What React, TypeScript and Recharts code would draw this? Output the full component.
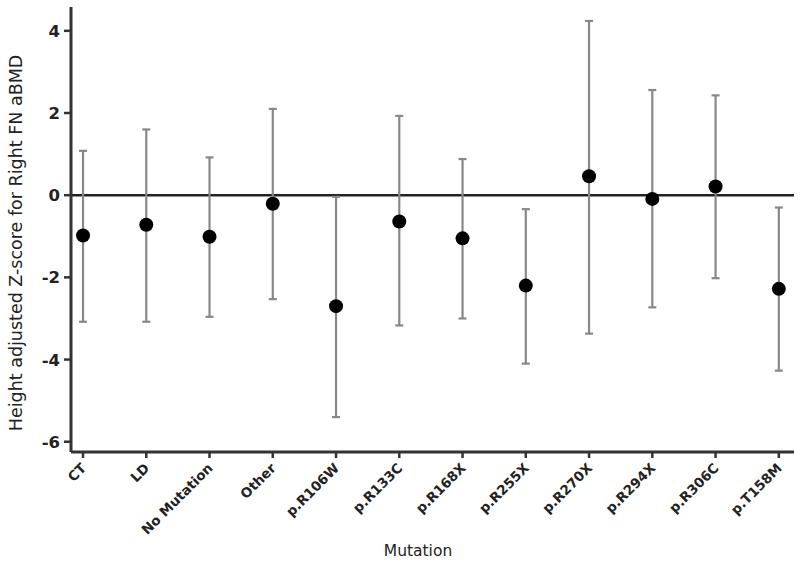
import React from 'react';
import { ComposedChart, Scatter, ErrorBar, XAxis, YAxis, ReferenceLine } from 'recharts';

const categories = ['CT', 'LD', 'No Mutation', 'Other', 'p.R106W', 'p.R133C', 'p.R168X', 'p.R255X', 'p.R270X', 'p.R294X', 'p.R306C', 'p.T158M'];
const means = [-0.98, -0.72, -1.01, -0.21, -2.7, -0.64, -1.05, -2.2, 0.46, -0.09, 0.21, -2.28];
const lowers = [-3.08, -3.08, -2.96, -2.53, -5.4, -3.17, -3.0, -4.1, -3.37, -2.73, -2.02, -4.27];
const uppers = [1.08, 1.6, 0.92, 2.1, -0.04, 1.93, 0.88, -0.34, 4.24, 2.56, 2.43, -0.3];
const yTicks = [-6, -4, -2, 0, 2, 4];
const xTicks = categories.map((_, i) => i);

const data = categories.map((name, i) => ({
  idx: i,
  name,
  mean: means[i],
  err: [means[i] - lowers[i], uppers[i] - means[i]],
}));

const FONT = '"DejaVu Sans", sans-serif';

const XTick = (props: any) => {
  const { x, y, payload } = props;
  return (
    <g transform={`translate(${x + 4},${y + 9})`}>
      <text
        textAnchor="end"
        transform="rotate(-45)"
        fontSize={13.5}
        fontWeight="bold"
        fontFamily={FONT}
        fill="#222"
      >
        {categories[payload.value]}
      </text>
    </g>
  );
};

const YTick = (props: any) => {
  const { x, y, payload } = props;
  return (
    <text x={x} y={y} dy={6} textAnchor="end" fontSize={16.5} fontWeight="bold" fontFamily={FONT} fill="#222">
      {payload.value}
    </text>
  );
};

const Dot = (p: any) => <circle cx={p.cx} cy={p.cy} r={7} fill="#000" />;

export default function App() {
  return (
    <div style={{ position: 'absolute', left: 0, top: 0, width: 800, height: 563, background: '#fff' }}>
      <ComposedChart width={800} height={563} data={data} margin={{ top: 7, right: 6, left: 0, bottom: 0 }}>
        <XAxis
          dataKey="idx"
          type="number"
          domain={[-0.19, 11.24]}
          ticks={xTicks}
          allowDataOverflow
          interval={0}
          height={111}
          axisLine={{ stroke: '#333', strokeWidth: 3 }}
          tickLine={{ stroke: '#333', strokeWidth: 2.5 }}
          tickSize={6}
          tick={<XTick />}
        />
        <YAxis
          type="number"
          domain={[-6.25, 4.58]}
          ticks={yTicks}
          allowDataOverflow
          width={71}
          axisLine={{ stroke: '#333', strokeWidth: 3 }}
          tickLine={{ stroke: '#333', strokeWidth: 2.5 }}
          tickSize={7}
          tickMargin={4}
          tick={<YTick />}
        />
        <ReferenceLine y={0} stroke="#222" strokeWidth={2.5} />
        <Scatter dataKey="mean" isAnimationActive={false} shape={<Dot />}>
          <ErrorBar dataKey="err" direction="y" width={4} stroke="#888" strokeWidth={2.2} isAnimationActive={false} />
        </Scatter>
        <text x={16} y={243} transform="rotate(-90 16 243)" textAnchor="middle" dominantBaseline="central" fontSize={17.5} fontFamily={FONT} fill="#222">
          Height adjusted Z-score for Right FN aBMD
        </text>
        <text x={418} y={556} textAnchor="middle" fontSize={15.5} fontFamily={FONT} fill="#222">
          Mutation
        </text>
      </ComposedChart>
    </div>
  );
}
